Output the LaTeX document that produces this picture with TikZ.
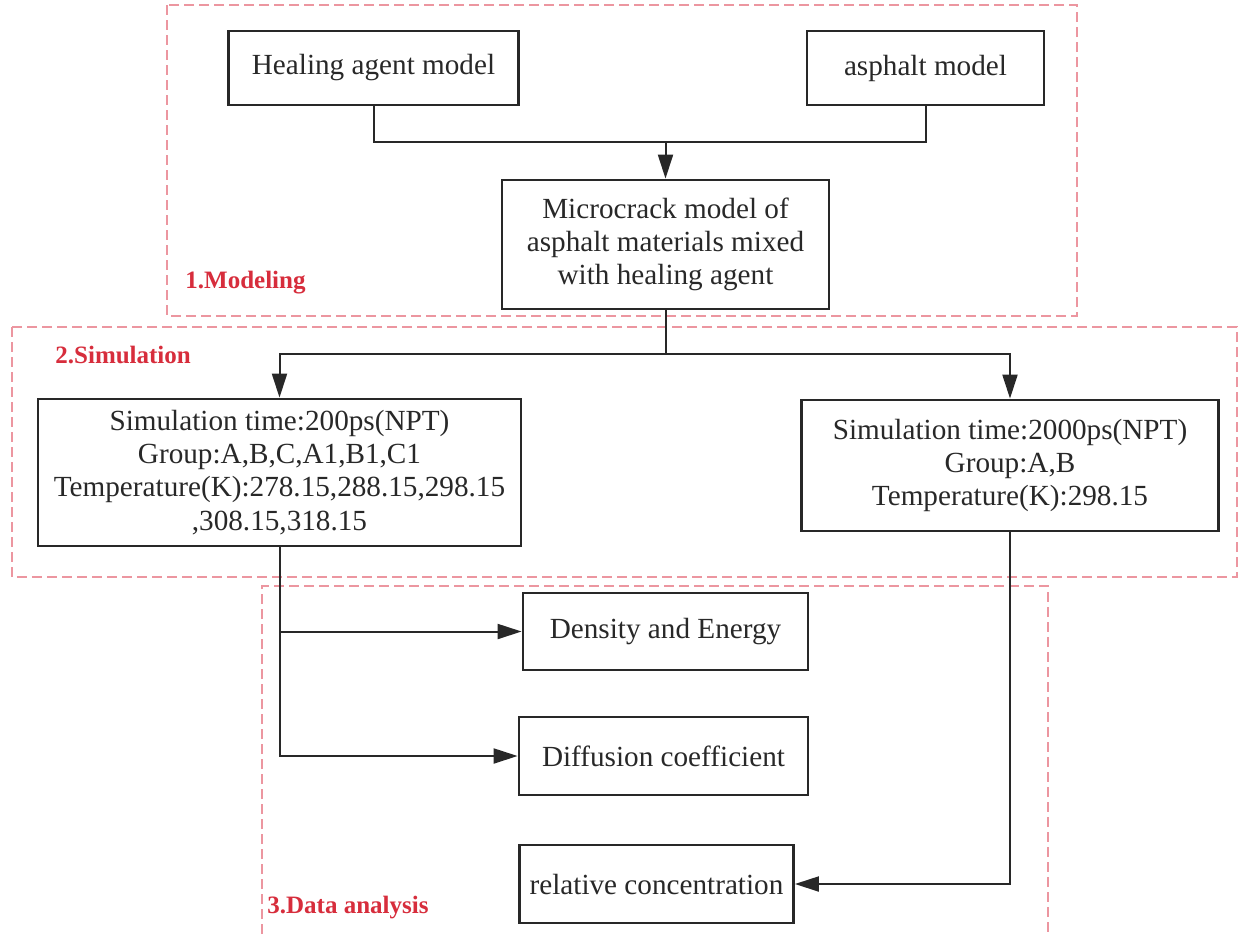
\documentclass[tikz,border=0pt]{standalone}
\usepackage{fontspec}
\setmainfont{Liberation Serif}
\usetikzlibrary{arrows.meta}
\definecolor{ink}{RGB}{40,40,40}
\definecolor{regionpink}{RGB}{236,150,160}
\definecolor{labelred}{RGB}{215,45,60}
\tikzset{
  box/.style={draw=ink, line width=1.4pt, fill=white, inner sep=0pt, align=center,
    text=ink, font=\fontsize{14.6}{16.6}\selectfont},
  conn/.style={draw=ink, line width=1pt},
  arr/.style={conn, -{Triangle[length=12pt,width=7.5pt]}},
  region/.style={draw=regionpink, line width=0.8pt, dash pattern=on 5pt off 2.5pt},
  tag/.style={text=labelred, font=\fontsize{12.5}{14}\selectfont\bfseries, anchor=west, inner sep=0pt}
}
\begin{document}
\begin{tikzpicture}[x=0.5pt,y=-0.5pt]
\useasboundingbox[fill=white] (0,0) rectangle (1239,934);
% regions
\draw[region] (167,5) rectangle (1077,316);
\draw[region] (12,327) rectangle (1237,577);
\draw[region] (262,934) -- (262,586) -- (1048,586) -- (1048,934);
\node[tag] (t1) at (185,283) {1.Modeling};
\node[tag] (t2) at (55,355) {2.Simulation};
\node[tag] (t3) at (267,908) {3.Data analysis};
% boxes
\node[box, minimum width=145pt, minimum height=37pt] (heal) at (373.5,68) {Healing agent model};
\node[box, minimum width=118.5pt, minimum height=37pt] (asph) at (925.5,68) {asphalt model};
\node[box, minimum width=163.5pt, minimum height=64.5pt] (micro) at (665.5,244.5) {Microcrack model of\\asphalt materials mixed\\with healing agent};
\node[box, minimum width=241.5pt, minimum height=73.5pt] (sim1) at (279.5,472.5) {Simulation time:200ps(NPT)\\Group:A,B,C,A1,B1,C1\\Temperature(K):278.15,288.15,298.15\\,308.15,318.15};
\node[box, minimum width=208.5pt, minimum height=65.5pt] (sim2) at (1010,465.5) {Simulation time:2000ps(NPT)\\Group:A,B\\Temperature(K):298.15};
\node[box, minimum width=142.5pt, minimum height=38.5pt] (dens) at (665.5,631.5) {Density and Energy};
\node[box, minimum width=144.5pt, minimum height=39pt] (diff) at (663.5,756) {Diffusion coefficient};
\node[box, minimum width=137pt, minimum height=39pt] (rel) at (656.5,884) {relative concentration};
% connectors
\coordinate (j1) at (665.5,142);
\coordinate (j2) at (665.5,354);
\draw[conn] (heal.south) |- (j1) -| (asph.south);
\draw[arr] (j1) -- (micro.north);
\draw[conn] (micro.south) -- (j2);
\draw[arr] (j2) -| (sim1.north);
\draw[arr] (j2) -| (sim2.north);
\draw[arr] (sim1.south) |- (dens.west);
\draw[arr] (sim1.south) |- (diff.west);
\draw[arr] (sim2.south) |- (rel.east);
\end{tikzpicture}
\end{document}
